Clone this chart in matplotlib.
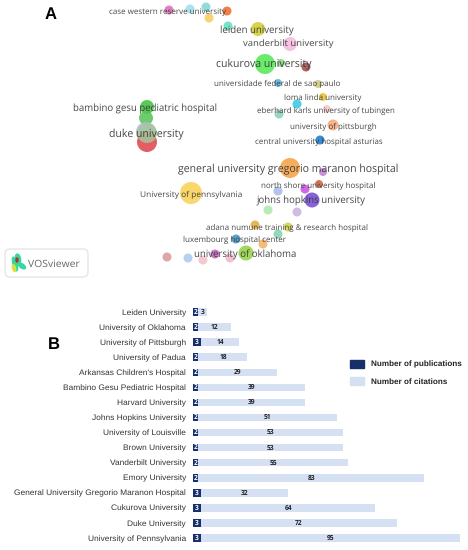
"""
plot.py
Panel A: VOSviewer institution network, panel B: publications and citations per institution
"""
import matplotlib
matplotlib.use('Agg')
import matplotlib.pyplot as plt
from matplotlib.patches import Ellipse, FancyBboxPatch, Patch

plt.rcParams['text.hinting'] = 'none'

# Panel A bubbles (map position, radius, colour)
bubble_x = [169, 190, 206, 227, 209, 228, 147, 146, 146, 147, 147,
            258, 290, 265, 281, 306, 278, 318, 323, 297, 327, 279, 333, 320,
            290, 323, 319, 278, 305, 312, 268, 297, 255, 288, 278, 236, 263, 246,
            191, 167, 188, 203, 215, 230]
bubble_y = [10, 9, 7, 11, 18, 26, 107, 118, 132, 142, 133,
            29, 44, 64, 63, 67, 83, 84, 97, 104, 109, 114, 125, 140,
            168, 172, 184, 191, 189, 200, 210, 212, 225, 227, 234, 239, 244, 253,
            193, 257, 258, 260, 254, 258]
bubble_r = [4.5, 4.5, 4.5, 4.5, 4.5, 4.5, 7, 7, 10, 10, 10,
            7, 7, 10, 4, 4.5, 4, 4, 4, 4.5, 4, 4.5, 5.5, 4.5,
            10, 4, 4, 4.5, 4.5, 7.5, 4.5, 4.5, 4.5, 4.5, 4.5, 4.5, 4.5, 7.5,
            11, 4.5, 4.5, 4.5, 4.5, 4.5]
bubble_colors = ['#e06ab8', '#9fdcec', '#7fd8d0', '#ee6a2a', '#f5cc5a', '#5fe0c0',
                 '#3dc03d', '#55c455', '#b9b5e0', '#e0404a', '#a5c79a',
                 '#d0cc30', '#f5b8dc', '#50e850', '#80d880', '#a04848', '#60b0d8',
                 '#c8c880', '#e8c030', '#30c8e0', '#f5c8c8', '#88d0b8', '#f5a878', '#1878c8',
                 '#f5a040', '#c080d0', '#d06040', '#a8b8e8', '#c850e0', '#7048d0',
                 '#a8e8a8', '#c8b0e0', '#e0a840', '#d0d050', '#80d0b0', '#3890c0',
                 '#f5b060', '#90d040', '#fad050', '#d89898', '#a8c8f0', '#f0c0c8',
                 '#c860c0', '#f0b8c8']

# Panel A labels
map_labels = ['case western reserve university', 'leiden university', 'vanderbilt university',
              'cukurova university', 'universidade federal de sao paulo', 'loma linda university',
              'eberhard karls university of tubingen', 'university of pittsburgh',
              'central university hospital asturias', 'bambino gesu pediatric hospital',
              'duke university', 'general university gregorio maranon hospital',
              'University of pennsylvania', 'north shore university hospital',
              'johns hopkins university', 'adana numune training & research hospital',
              'luxembourg hospital center', 'university of oklahoma']
label_x = [167.5, 256.5, 288, 264, 277, 322.5, 326, 333, 318.5, 145, 146.5, 288.5,
           191, 318, 310.5, 287, 235, 245]
label_y = [10, 29, 43, 63, 82, 96, 109, 125, 140, 107, 133, 168, 193, 184, 200, 226, 238, 253]
label_size = [5.8, 6.9, 6.8, 7.6, 5.8, 5.8, 5.8, 5.8, 5.8, 6.9, 7.6, 7.6, 6.0, 5.8, 6.9, 5.8, 5.8, 6.9]

# Panel B
institutions = ['Leiden University', 'University of Oklahoma', 'University of Pittsburgh',
                'University of Padua', "Arkansas Children's Hospital",
                'Bambino Gesu Pediatric Hospital', 'Harvard University', 'Johns Hopkins University',
                'University of Louisville', 'Brown University', 'Vanderbilt University',
                'Emory University', 'General University Gregorio Maranon Hospital',
                'Cukurova University', 'Duke University', 'University of Pennsylvania']
publications = [2, 2, 3, 2, 2, 2, 2, 2, 2, 2, 2, 2, 3, 3, 3, 3]
citations = [3, 12, 14, 18, 29, 39, 39, 51, 53, 53, 55, 83, 32, 64, 72, 95]

W, H = 468, 550
DARK = '#17306b'
LIGHT = '#d6e0f3'
TEXT = '#333333'

fig = plt.figure(figsize=(W / 100, H / 100), dpi=100)

# 地图部分，坐标直接按图上的位置
ax_map = fig.add_axes([0, 0, 1, 1])
ax_map.set_xlim(0, W)
ax_map.set_ylim(H, 0)
ax_map.axis('off')

sizes = [(2 * r * 0.72) ** 2 for r in bubble_r]
ax_map.scatter(bubble_x, bubble_y, s=sizes, c=bubble_colors, alpha=0.85, linewidths=0, zorder=2)

for name, x, y, size in zip(map_labels, label_x, label_y, label_size):
    # va=center 偏上一点，补 1.5 像素
    ax_map.text(x, y + 1.5, name, ha='center', va='center', fontsize=size,
                family='Open Sans', color=TEXT, alpha=0.9, zorder=3)

ax_map.text(51, 15, 'A', ha='center', va='center', fontsize=12, fontweight='bold',
            family='Liberation Sans', color='black')
ax_map.text(54, 345, 'B', ha='center', va='center', fontsize=12, fontweight='bold',
            family='Liberation Sans', color='black')

# VOSviewer 标志
ax_map.add_patch(FancyBboxPatch((5, 249), 83, 28, boxstyle='round,pad=0,rounding_size=5',
                                facecolor='white', edgecolor='#e6e6e6', linewidth=1))
ax_map.add_patch(Ellipse((15, 264), 4, 14, angle=-15, color='#35d6a0'))
ax_map.add_patch(Ellipse((18, 259), 5, 10, angle=-10, color='#35d6a0'))
ax_map.add_patch(Ellipse((22, 266), 8, 4, angle=35, color='#35d6a0'))
ax_map.add_patch(Ellipse((14, 268), 3, 7, angle=-15, color='#d8e040'))
ax_map.add_patch(Ellipse((17, 260), 2, 4, color='#c03020'))
ax_map.text(28, 264, 'VOSviewer', ha='left', va='center', fontsize=7.5,
            family='Open Sans', color='#666666')

# 柱状图部分
px_per_unit = 2.72
row_step = 15.07
n = len(institutions)
top = 312 - row_step / 2
bottom = top + row_step * n
ax_bar = fig.add_axes([193 / W, 1 - bottom / H, 100 * px_per_unit / W, (bottom - top) / H])
ax_bar.patch.set_alpha(0)

rows = list(range(n))
ax_bar.barh(rows, publications, height=0.5, color=DARK, label='Number of publications')
ax_bar.barh(rows, citations, left=publications, height=0.5, color=LIGHT, label='Number of citations')

for i in rows:
    ax_bar.text(publications[i] / 2, i, str(publications[i]), ha='center', va='center',
                fontsize=4.8, fontweight='bold', family='Open Sans', color='white')
    ax_bar.text(publications[i] + citations[i] / 2, i, str(citations[i]), ha='center', va='center',
                fontsize=4.8, fontweight='bold', family='Open Sans', color='#222222')

ax_bar.set_xlim(0, 100)
ax_bar.set_ylim(n - 0.5, -0.5)
ax_bar.set_xticks([])
ax_bar.set_yticks(rows)
ax_bar.set_yticklabels(institutions, fontsize=6.0, family='Liberation Sans', color='#333333')
ax_bar.tick_params(axis='y', length=0, pad=5)
for spine in ax_bar.spines.values():
    spine.set_visible(False)

handles = [Patch(color=DARK), Patch(color=LIGHT)]
fig.legend(handles, ['Number of publications', 'Number of citations'],
           loc='upper left', bbox_to_anchor=(350 / W, 1 - 360 / H), frameon=False,
           prop={'family': 'Liberation Sans', 'weight': 'bold', 'size': 5.85},
           handlelength=1.72, handleheight=1.1, handletextpad=0.85, labelspacing=1.1,
           borderpad=0, borderaxespad=0, labelcolor='#222222')

plt.savefig('out.png', dpi=100)
